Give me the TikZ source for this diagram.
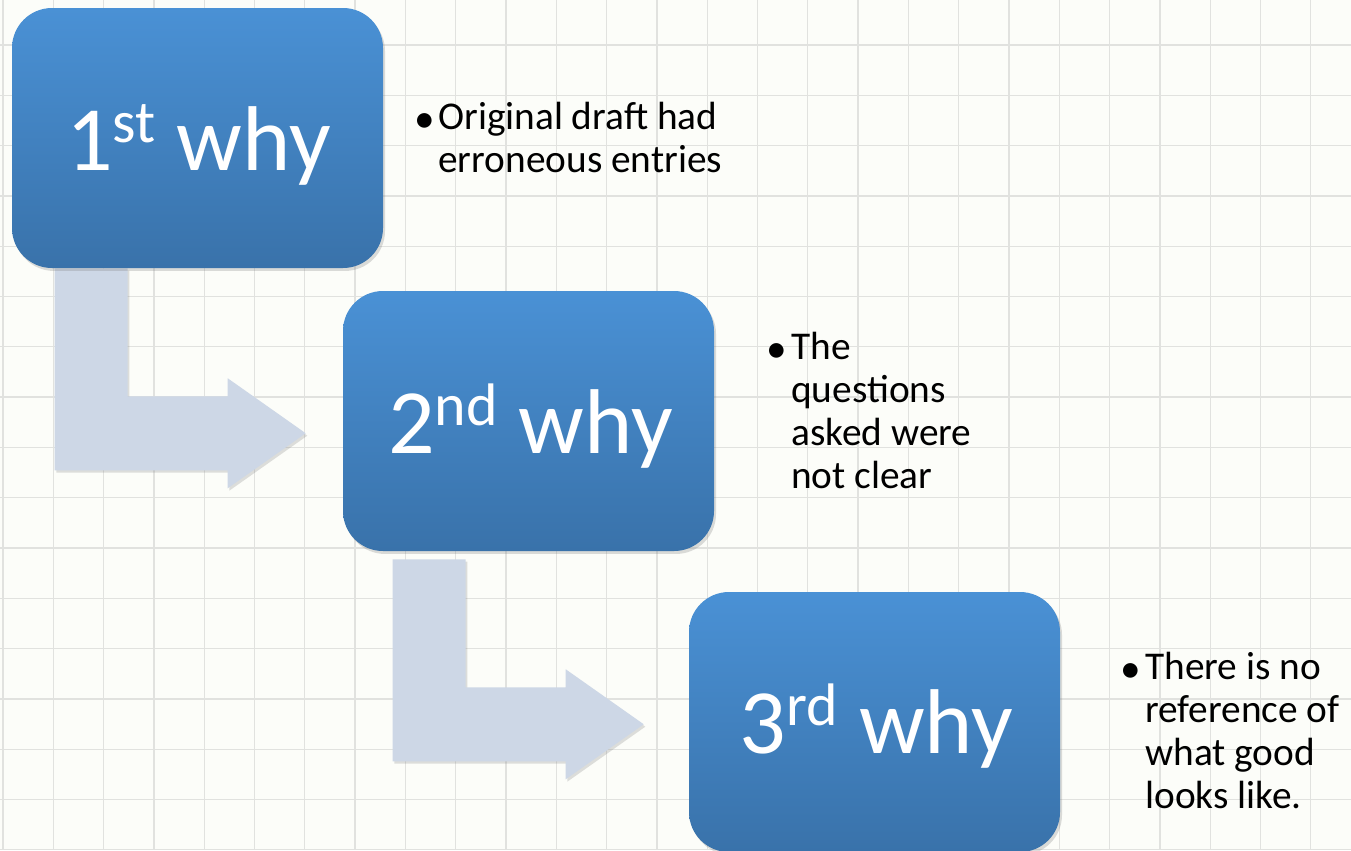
\documentclass[tikz,border=0pt]{standalone}
\usepackage{fontspec}
\setmainfont{Carlito}
\usetikzlibrary{calc,shadows}

\definecolor{paper}{RGB}{252,253,249}
\definecolor{gridline}{RGB}{225,226,223}
\definecolor{boxtop}{RGB}{74,145,213}
\definecolor{boxbot}{RGB}{57,114,170}
\definecolor{bendfill}{RGB}{205,215,230}

\pgfdeclarelayer{paperlayer}
\pgfdeclarelayer{arrowlayer}
\pgfsetlayers{paperlayer,arrowlayer,main}

% raised ordinal suffix
\newcommand\ordsuffix[1]{\raisebox{21pt}{\fontsize{45}{50}\selectfont #1}}
% lines of a note, anchored at the baseline of the first line
\newcommand\notelines[1]{\begin{tabular}[t]{@{}l@{}}#1\end{tabular}}

\tikzset{
  whybox/.style={rounded corners=30pt, minimum width=278.25pt, minimum height=195pt,
    inner sep=0pt, draw=none, top color=boxtop, bottom color=boxbot,
    drop shadow={opacity=0.28, shadow xshift=1.5pt, shadow yshift=-2.2pt}},
  whylabel/.style={anchor=base, text=white, inner sep=0pt,
    font=\fontsize{69}{80}\selectfont},
  bulletmark/.style={anchor=base, inner sep=0pt, font=\fontsize{31}{32.25}\selectfont},
  bullettext/.style={anchor=base west, inner sep=0pt,
    font=\fontsize{29.5}{32.25}\selectfont},
  gridrule/.style={draw=gridline, line width=1pt},
  bentarrow/.pic={
    \fill[bendfill, drop shadow={opacity=0.25, shadow xshift=1.2pt, shadow yshift=-1.8pt}]
      (0,0) -- (73,0) -- (73,128) -- (173,128) -- (173,110) -- (251,165)
      -- (173,220) -- (173,202) -- (0,202) -- cycle;
  }
}

\begin{document}
\begin{tikzpicture}[x=0.75pt, y=-0.75pt]
  \useasboundingbox (0,0) rectangle (1351,850);

  % squared paper
  \begin{pgfonlayer}{paperlayer}
    \fill[paper] (0,0) rectangle (1351,850);
    \foreach \k in {0,...,26}
      \draw[gridrule] ({3+50.3*\k},0) -- ({3+50.3*\k},850);
    \foreach \k in {0,...,16}
      \draw[gridrule] (0,{45+50.3*\k}) -- (1351,{45+50.3*\k});
  \end{pgfonlayer}

  % the three why boxes
  \node[whybox] (b1) at (197.5,138) {};
  \node[whybox] (b2) at (528.5,421) {};
  \node[whybox] (b3) at (874.5,722) {};

  \node[whylabel] (l1) at ($(b1.center)+(1,32)$) {1\ordsuffix{st} why};
  \node[whylabel] (l2) at ($(b2.center)+(2,32)$) {2\ordsuffix{nd} why};
  \node[whylabel] (l3) at ($(b3.center)+(2,31)$) {3\ordsuffix{rd} why};

  % bent arrows leading from one box to the next
  \begin{pgfonlayer}{arrowlayer}
    \pic at ($(b1.south west)+(43,0)$) {bentarrow};
    \pic at ($(b2.south west)+(50,8)$) {bentarrow};
  \end{pgfonlayer}

  % bullet notes
  \node[bulletmark] (d1) at (425,132) {•};
  \node[bullettext] (t1) at (438,129) {\notelines{Original draft had\\erroneous entries}};

  \node[bulletmark] (d2) at (777,362) {•};
  \node[bullettext] (t2) at (791,359) {\notelines{The\\questions\\asked were\\not clear}};

  \node[bulletmark] (d3) at (1131,682) {•};
  \node[bullettext] (t3) at (1145,679) {\notelines{There is no\\reference of\\what good\\looks like.}};
\end{tikzpicture}
\end{document}
